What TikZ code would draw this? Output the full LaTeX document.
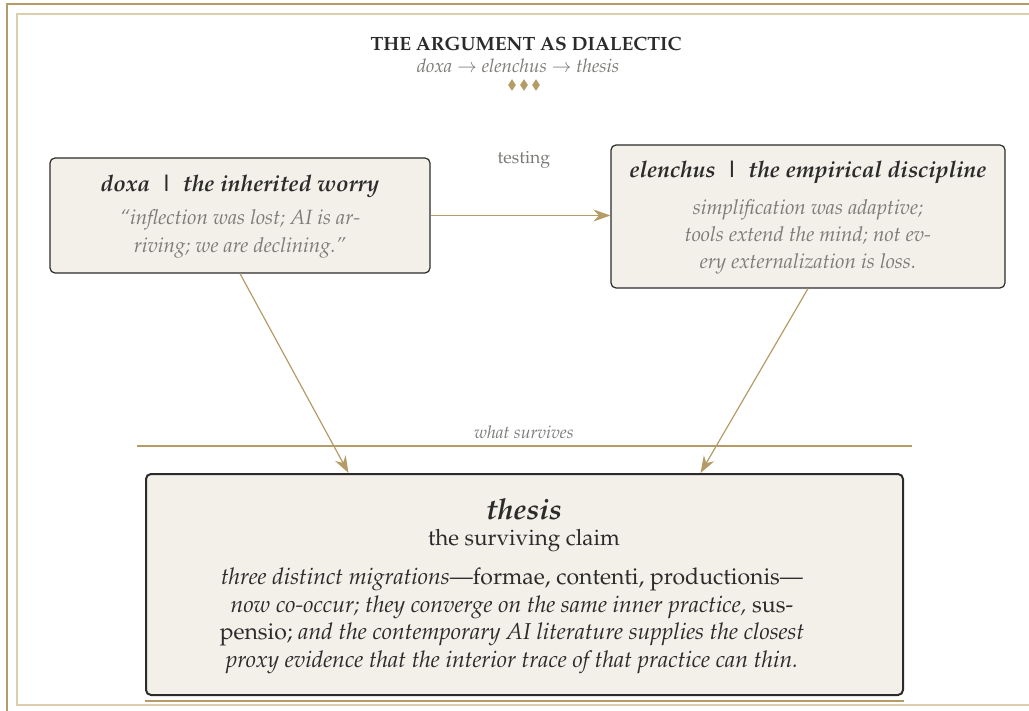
\documentclass[tikz,border=0pt]{standalone}
\usepackage[T1]{fontenc}
\usepackage{mathpazo}
\usetikzlibrary{arrows.meta,shapes.geometric}
\definecolor{gold}{HTML}{B59B65}
\definecolor{tan}{HTML}{DDCFAE}
\definecolor{paper}{HTML}{F3EFE9}
\definecolor{ink}{HTML}{2B2B2B}
\definecolor{mute}{HTML}{7D7B78}
\tikzset{
  stagebox/.style={draw=ink, fill=paper, rounded corners=2.5pt, line width=0.6pt, inner sep=0pt},
  flow/.style={-{Stealth[length=8.5pt,width=6pt]}, draw=gold, line width=0.6pt},
  head/.style={text=ink, font=\fontsize{11.4}{13}\selectfont\bfseries\itshape},
  gloss/.style={text=mute, align=center, font=\fontsize{10.3}{13.6}\selectfont\itshape},
}

\begin{document}
\begin{tikzpicture}[x=0.5pt,y=-0.5pt]
    \useasboundingbox (0,0) rectangle (1029,711);
    % Page frame
    \draw[gold, line width=0.6pt] (7,711) -- (7,4) -- (1029,4);
    \draw[tan, line width=1.2pt] (1029,705) -- (17,705) -- (17,14) -- (1029,14);
    % Heading
    \node[text=ink, font=\fontsize{9.6}{11}\selectfont\bfseries] (title) at (526,44) {THE ARGUMENT AS DIALECTIC};
    \node[text=mute, font=\fontsize{9.4}{11}\selectfont\itshape] (sub) at (518,66) {doxa $\rightarrow$ elenchus $\rightarrow$ thesis};
    \foreach \i in {-1,0,1}
      \node[diamond, fill=gold, inner sep=0pt, minimum width=4pt, minimum height=6pt] (orn\i) at (524+12*\i,85) {};
    % Stage boxes
    \node[stagebox, minimum width=190pt, minimum height=57.5pt] (doxa) at (240,215.5) {};
    \node[stagebox, minimum width=197pt, minimum height=71.5pt] (elenchus) at (808,216.5) {};
    \node[stagebox, line width=1pt, minimum width=378.5pt, minimum height=110.5pt] (thesis) at (524.5,584.5) {};
    % Box texts
    \node[head] (doxahead) at (240,187) {doxa \,|\, the inherited worry};
    \node[gloss] (doxabody) at (240,234) {``inflection was lost; AI is ar-\\riving; we are declining.''};
    \node[head] (elenhead) at (808,173) {elenchus \,|\, the empirical discipline};
    \node[gloss] (elenbody) at (808,237) {simplification was adaptive;\\tools extend the mind; not ev-\\ery externalization is loss.};
    \node[text=ink, font=\fontsize{14.5}{16}\selectfont\bfseries\itshape] (thesishead) at (524,509) {thesis};
    \node[text=ink, font=\fontsize{11.2}{13}\selectfont] (claim) at (524,541) {the surviving claim};
    \node[text=ink, align=center, font=\fontsize{11.5}{13.8}\selectfont] (thesisbody) at (512,621) {%
      \textit{three distinct migrations}---formae, contenti, productionis---\\
      \textit{now co-occur; they converge on the same inner practice,} sus-\\
      pensio; \textit{and the contemporary AI literature supplies the closest}\\
      \textit{proxy evidence that the interior trace of that practice can thin.}};
    % Connectors
    \draw[flow] (doxa.east) -- (doxa.east -| elenchus.west);
    \node[text=mute, font=\fontsize{8.8}{10}\selectfont] (testing) at (524,160) {testing};
    \draw[flow] (doxa.south) -- ([xshift=-88pt]thesis.north);
    \draw[flow] (elenchus.south) -- ([xshift=88pt]thesis.north);
    % What survives rule
    \coordinate (ruleL) at (137,446);
    \coordinate (ruleR) at (912,446);
    \draw[gold, line width=0.6pt] (ruleL) -- (ruleR);
    \node[text=mute, font=\fontsize{8.8}{10}\selectfont\itshape] (survives) at (524,432) {what survives};
    \draw[gold, line width=0.6pt] ([yshift=-2.5pt]thesis.south west) -- ([yshift=-2.5pt]thesis.south east);
\end{tikzpicture}
\end{document}
